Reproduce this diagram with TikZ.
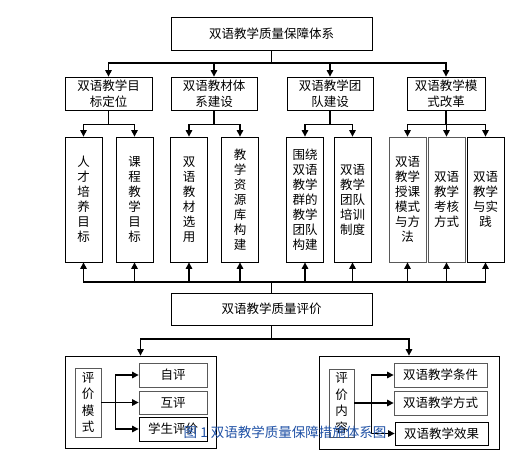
\documentclass[tikz,border=0pt]{standalone}
\usepackage{fontspec}
\setmainfont{Noto Sans CJK SC}
\usepackage{xcolor}
\usetikzlibrary{arrows.meta,calc}
\definecolor{capblue}{RGB}{30,80,165}
\tikzset{
  block/.style={
    draw, line width=0.8pt, align=center, inner sep=0pt,
    font=\fontsize{12.5}{16}\selectfont
  },
  tallblock/.style={
    block, minimum width=37pt, minimum height=125pt,
    font=\fontsize{12.5}{15}\selectfont
  },
  greyblock/.style={draw=black!65},
  arrow/.style={-{Triangle[length=6.5pt,width=6.5pt]}, line width=1.1pt}
}
\begin{document}
\begin{tikzpicture}[x=1pt,y=-1pt]
  \useasboundingbox (0,0) rectangle (524,450);

  % top level
  \node[block, minimum width=201pt, minimum height=33pt] (sys) at (271.5,33.5) {双语教学质量保障体系};

  % second level
  \node[block, minimum width=87pt, minimum height=33pt] (goal) at (108.5,93.5) {双语教学目\\标定位};
  \node[block, minimum width=86pt, minimum height=33pt] (book) at (214,93.5) {双语教材体\\系建设};
  \node[block, minimum width=86pt, minimum height=33pt] (team) at (330,93.5) {双语教学团\\队建设};
  \node[block, minimum width=78pt, minimum height=33pt] (mode) at (446,93.5) {双语教学模\\式改革};

  % third level
  \node[tallblock] (g1) at (83.5,199.5) {人\\才\\培\\养\\目\\标};
  \node[tallblock] (g2) at (134.5,199.5) {课\\程\\教\\学\\目\\标};
  \node[tallblock] (k1) at (189,199.5) {双\\语\\教\\材\\选\\用};
  \node[tallblock] (k2) at (240,199.5) {教\\学\\资\\源\\库\\构\\建};
  \node[tallblock] (t1) at (305,199.5) {围绕\\双语\\教学\\群的\\教学\\团队\\构建};
  \node[tallblock] (t2) at (352.5,199.5) {双语\\教学\\团队\\培训\\制度};
  \node[tallblock, greyblock] (m1) at (407.5,199.5) {双语\\教学\\授课\\模式\\与方\\法};
  \node[tallblock, greyblock] (m2) at (446.5,199.5) {双语\\教学\\考核\\方式};
  \node[tallblock] (m3) at (485.5,199.5) {双语\\教学\\与实\\践};

  % evaluation
  \node[block, minimum width=201pt, minimum height=32pt] (eval) at (271.5,309) {双语教学质量评价};

  \node[block, minimum width=151pt, minimum height=92pt] (lbox) at (140.5,402) {};
  \node[block, minimum width=180pt, minimum height=93pt] (rbox) at (409,402.5) {};

  \node[block, greyblock, minimum width=26pt, minimum height=69pt, font=\fontsize{12.5}{16.5}\selectfont] (lway) at (88,402.5) {评\\价\\模\\式};
  \node[block, greyblock, minimum width=68pt, minimum height=24pt] (self) at (173,375) {自评};
  \node[block, greyblock, minimum width=68pt, minimum height=23pt] (peer) at (173,402.5) {互评};
  \node[block, minimum width=68pt, minimum height=24pt] (stud) at (173,429) {学生评价};

  \node[block, greyblock, minimum width=25pt, minimum height=68pt, font=\fontsize{12.5}{16.5}\selectfont] (rwhat) at (341.5,403) {评\\价\\内\\容};
  \node[block, greyblock, minimum width=93pt, minimum height=24pt] (cond) at (440.5,375) {双语教学条件};
  \node[block, greyblock, minimum width=93pt, minimum height=24pt] (meth) at (440.5,403) {双语教学方式};
  \node[block, minimum width=93pt, minimum height=23pt] (effc) at (441.5,433.5) {双语教学效果};

  \coordinate (bus1) at (271.5,63);
  \coordinate (bus2) at (271.5,282);
  \coordinate (bus3) at (271.5,339);

  \draw[arrow] (sys.south) -- (bus1) -| (goal.north);
  \draw[arrow] (sys.south) -- (bus1) -| (book.north);
  \draw[arrow] (sys.south) -- (bus1) -| (team.north);
  \draw[arrow] (sys.south) -- (bus1) -| (mode.north);

  \draw[arrow] (goal.south) -- ++(0,14) -| (g1.north);
  \draw[arrow] (goal.south) -- ++(0,14) -| (g2.north);
  \draw[arrow] (book.south) -- ++(0,14) -| (k1.north);
  \draw[arrow] (book.south) -- ++(0,14) -| (k2.north);
  \draw[arrow] (team.south) -- ++(0,14) -| (t1.north);
  \draw[arrow] (team.south) -- ++(0,14) -| (t2.north);
  \draw[arrow] (mode.south) -- ++(0,14) -| (m1.north);
  \draw[arrow] (mode.south) -- ++(0,14) -| (m2.north);
  \draw[arrow] (mode.south) -- ++(0,14) -| (m3.north);

  \foreach \n in {g1,g2,k1,k2,t1,t2,m1,m2,m3}
    \draw[arrow] (eval.north) -- (bus2) -| (\n.south);

  \draw[arrow] (eval.south) -- (bus3) -| (lbox.north);
  \draw[arrow] (eval.south) -- (bus3) -| (rbox.north);

  \foreach \n in {self,peer,stud}
    \draw[arrow] (lway.east) -- ++(14,0) |- (\n.west);
  \foreach \n in {cond,meth,effc}
    \draw[arrow] (rwhat.east) -- ++(17,0) |- (\n.west);

  % caption overlay
  \node[text=capblue, font=\fontsize{13.5}{16}\selectfont, inner sep=0pt] (cap) at (285,432) {图 1 双语教学质量保障措施体系图};
\end{tikzpicture}
\end{document}
